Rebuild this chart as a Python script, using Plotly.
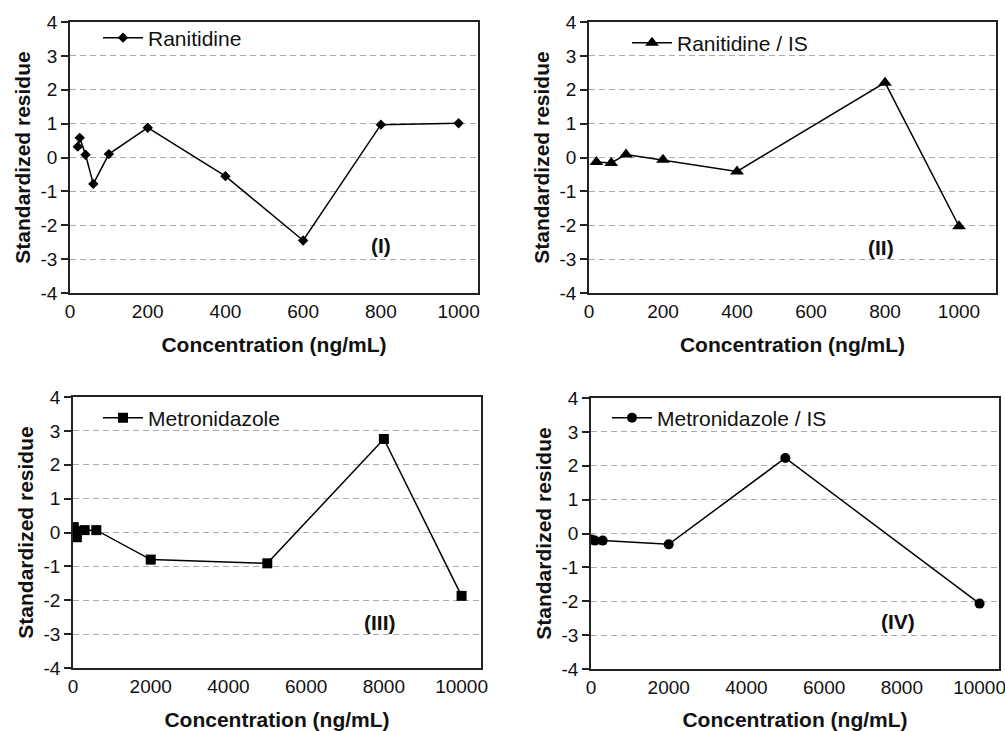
import plotly.graph_objects as go

# ---------------- data ----------------
ran_x = [20, 25, 40, 60, 100, 200, 400, 600, 800, 1000]
ran_y = [0.32, 0.58, 0.08, -0.78, 0.10, 0.88, -0.55, -2.45, 0.97, 1.01]

ranis_x = [20, 60, 100, 200, 400, 800, 1000]
ranis_y = [-0.13, -0.16, 0.09, -0.07, -0.41, 2.21, -2.03]

met_x = [20, 50, 100, 300, 600, 2000, 5000, 8000, 10000]
met_y = [0.16, 0.04, -0.14, 0.07, 0.07, -0.80, -0.91, 2.76, -1.87]

metis_x = [20, 100, 300, 2000, 5000, 10000]
metis_y = [-0.18, -0.21, -0.21, -0.32, 2.23, -2.07]

names = ["Ranitidine", "Ranitidine / IS", "Metronidazole", "Metronidazole / IS"]
labels = ["(I)", "(II)", "(III)", "(IV)"]
y_ticks = [-4, -3, -2, -1, 0, 1, 2, 3, 4]
y_ticktext = ["-4", "-3", "-2", "-1", "0", "1", "2", "3", "4"]
x_ticks_small = [0, 200, 400, 600, 800, 1000]
x_ticks_big = [0, 2000, 4000, 6000, 8000, 10000]
x_text_small = ["0", "200", "400", "600", "800", "1000"]
x_text_big = ["0", "2000", "4000", "6000", "8000", "10000"]

W, H = 1005, 731
FONT = "Liberation Sans, Arial, Helvetica, sans-serif"
INK = "#111"

# pixel boxes of the four panels (left, right, top, bottom)
boxes = [(70, 478, 22, 293), (589, 996, 22, 293), (73, 481, 397, 668), (591, 999, 398, 669)]
xranges = [[0, 1050], [0, 1100], [0, 10500], [0, 10500]]
xticks = [x_ticks_small, x_ticks_small, x_ticks_big, x_ticks_big]
xtexts = [x_text_small, x_text_small, x_text_big, x_text_big]
symbols = ["diamond", "triangle-up", "square", "circle"]
msizes = [8, 12, 10, 10]
datas = [(ran_x, ran_y), (ranis_x, ranis_y), (met_x, met_y), (metis_x, metis_y)]
label_pos = [(800, -2.6), (790, -2.65), (7900, -2.65), (7900, -2.6)]
title_standoff = [17, 17, 17, 17]
legend_px = [(98, 38), (627, 43), (98, 418), (607, 418)]

fig = go.Figure()
layout = dict(
    width=W, height=H, margin=dict(l=0, r=0, t=0, b=0, autoexpand=False),
    paper_bgcolor="white", plot_bgcolor="white", showlegend=True,
    font=dict(family=FONT, color=INK, size=18),
    annotations=[],
)

for i in range(4):
    n = i + 1
    sx = "" if n == 1 else str(n)
    l, r, t, b = boxes[i]
    xd = [l / W, r / W]
    yd = [1 - b / H, 1 - t / H]
    lg = "legend" if n == 1 else "legend%d" % n
    x, y = datas[i]
    fig.add_trace(go.Scatter(
        x=x, y=y, mode="lines+markers", name=names[i], showlegend=True,
        xaxis="x" + sx, yaxis="y" + sx, legend=lg,
        line=dict(color="black", width=1.5),
        marker=dict(symbol=symbols[i], size=msizes[i], color="black"),
    ))
    layout["xaxis" + sx] = dict(
        domain=xd, anchor="y" + sx, range=xranges[i],
        tickvals=xticks[i], ticktext=xtexts[i], ticklabeloverflow="allow",
        showline=True, linecolor="#222", linewidth=1.5, mirror=True,
        ticks="", showgrid=False, zeroline=False,
        tickfont=dict(size=19, color=INK),
        title=dict(text="<b>Concentration (ng/mL)</b>", font=dict(size=21, color=INK),
                   standoff=title_standoff[i]),
    )
    layout["yaxis" + sx] = dict(
        domain=yd, anchor="x" + sx, range=[-4, 4],
        tickvals=y_ticks, ticktext=y_ticktext,
        showline=True, linecolor="#222", linewidth=1.5, mirror=True,
        ticks="outside", ticklen=7, tickwidth=1.5, tickcolor="#222",
        showgrid=True, gridcolor="#aaaaaa", gridwidth=1, griddash="6px,4px",
        zeroline=False, tickfont=dict(size=19, color=INK),
        title=dict(text="<b>Standardized residue</b>", font=dict(size=21, color=INK), standoff=4),
    )
    # top and bottom axes carrying the tick marks
    for k, side in ((4, "top"), (8, "bottom")):
        tn = str(n + k)
        layout["xaxis" + tn] = dict(
            domain=xd, anchor="y" + sx, overlaying="x" + sx, side=side,
            range=xranges[i], tickvals=xticks[i], showticklabels=False,
            ticks="outside", ticklen=7, tickwidth=1.5, tickcolor="#222",
            showline=False, showgrid=False, zeroline=False,
        )
    lx, ly = legend_px[i]
    layout[lg] = dict(
        x=lx / W, y=1 - ly / H, xanchor="left", yanchor="middle",
        bgcolor="rgba(0,0,0,0)", borderwidth=0, itemwidth=40,
        font=dict(size=21, color=INK),
    )
    layout["annotations"].append(dict(
        x=label_pos[i][0], y=label_pos[i][1], xref="x" + sx, yref="y" + sx,
        text="<b>%s</b>" % labels[i], showarrow=False,
        font=dict(size=21, color=INK),
    ))

fig.update_layout(**layout)
fig.write_html("out.html")
